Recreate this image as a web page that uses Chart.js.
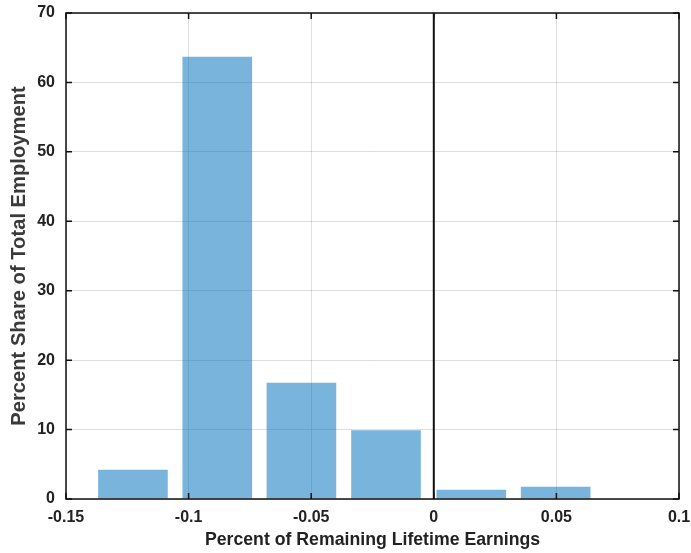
<!DOCTYPE html>
<html>
<head>
<meta charset="utf-8">
<script src="https://cdn.jsdelivr.net/npm/chart.js@4/dist/chart.umd.min.js"></script>
<style>
    html, body { margin: 0; padding: 0; background: #fff; }
    #wrap { width: 691px; height: 553px; }
</style>
</head>
<body>
<div id="wrap"><canvas id="chart"></canvas></div>
<script>
// Histogram bins (centers) and shares
const binCenters = [-0.1227, -0.0883, -0.0540, -0.0195, 0.0153, 0.0497];
const shares = [4.2, 63.7, 16.75, 9.9, 1.35, 1.75];
const xTicks = [-0.15, -0.1, -0.05, 0, 0.05, 0.1];
const yTicks = [0, 10, 20, 30, 40, 50, 60, 70];

const textColor = '#222';
const family = '"Liberation Sans", Arial, sans-serif';
const tickFont = { family: family, size: 16, weight: 'bold' };

// frame, inner tick marks and the zero line, drawn on top of the bars
const framePlugin = {
    id: 'frame',
    afterDatasetsDraw: (chart) => {
        const { ctx, chartArea: a, scales: { x, y } } = chart;
        ctx.save();
        ctx.strokeStyle = '#111';
        ctx.lineWidth = 1.5;
        ctx.strokeRect(a.left, a.top, a.right - a.left, a.bottom - a.top);

        ctx.beginPath();
        yTicks.forEach(v => {
            const py = y.getPixelForValue(v);
            ctx.moveTo(a.left, py); ctx.lineTo(a.left + 6, py);
            ctx.moveTo(a.right, py); ctx.lineTo(a.right - 6, py);
        });
        xTicks.forEach(v => {
            const px = x.getPixelForValue(v);
            ctx.moveTo(px, a.bottom); ctx.lineTo(px, a.bottom - 6);
            ctx.moveTo(px, a.top); ctx.lineTo(px, a.top + 6);
        });
        ctx.stroke();

        // vertical line at zero
        const x0 = x.getPixelForValue(0);
        ctx.beginPath();
        ctx.lineWidth = 2;
        ctx.moveTo(x0, a.top);
        ctx.lineTo(x0, a.bottom);
        ctx.stroke();
        ctx.restore();
    }
};

// drop the extra room Chart.js keeps for the edge labels
const noEdgePadding = (scale) => {
    scale.paddingTop = 0;
    scale.paddingBottom = 0;
    scale.paddingLeft = 0;
    scale.paddingRight = 0;
};

new Chart(document.getElementById('chart'), {
    type: 'bar',
    data: {
        datasets: [{
            data: binCenters.map((c, i) => ({ x: c, y: shares[i] })),
            backgroundColor: 'rgba(0, 114, 189, 0.53)',
            borderWidth: 0,
            barPercentage: 0.828,
            categoryPercentage: 1
        }]
    },
    options: {
        responsive: true,
        maintainAspectRatio: false,
        animation: false,
        layout: { padding: { top: 13, right: 12, left: 0, bottom: 0 } },
        plugins: {
            legend: { display: false },
            tooltip: { enabled: false }
        },
        scales: {
            x: {
                type: 'linear',
                offset: false,
                min: -0.15,
                max: 0.1,
                afterBuildTicks: (scale) => {
                    scale.ticks = xTicks.map(v => ({ value: v }));
                },
                afterFit: (scale) => { scale.height = 54; noEdgePadding(scale); },
                grid: { offset: false, color: 'rgba(0,0,0,0.13)', lineWidth: 1, drawTicks: false },
                border: { display: false },
                ticks: {
                    padding: 9,
                    color: textColor,
                    font: tickFont,
                    maxRotation: 0,
                    autoSkip: false,
                    callback: (v) => String(v)
                },
                title: {
                    display: true,
                    text: 'Percent of Remaining Lifetime Earnings',
                    color: textColor,
                    font: { family: family, size: 17.7, weight: 'bold' },
                    padding: { top: 0, bottom: 2.5 }
                }
            },
            y: {
                min: 0,
                max: 70,
                afterBuildTicks: (scale) => {
                    scale.ticks = yTicks.map(v => ({ value: v }));
                },
                afterFit: (scale) => { scale.width = 66; noEdgePadding(scale); },
                grid: { color: 'rgba(0,0,0,0.13)', lineWidth: 1, drawTicks: false },
                border: { display: false },
                ticks: {
                    padding: 11,
                    color: textColor,
                    font: tickFont
                },
                title: {
                    display: true,
                    text: 'Percent Share of Total Employment',
                    color: '#3a3a3a',
                    font: { family: family, size: 20.2, weight: 'bold' },
                    padding: { top: 7, bottom: 0 }
                }
            }
        }
    },
    plugins: [framePlugin]
});
</script>
</body>
</html>
